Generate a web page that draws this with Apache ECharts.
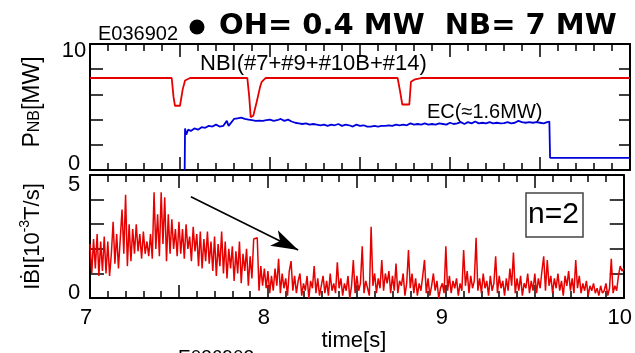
<!DOCTYPE html>
<html>
<head>
<meta charset="utf-8">
<script src="https://cdn.jsdelivr.net/npm/echarts@6/dist/echarts.min.js"></script>
<style>
  html, body { margin: 0; padding: 0; background: #fff; }
  #chart { width: 635px; height: 353px; }
</style>
</head>
<body>
<div id="chart"></div>
<script>
// NBI injected power [MW] (beams #7+#9+#10B+#14), breakpoints in time [s]
const nbiTime  = [7.00, 7.454, 7.464, 7.472, 7.500, 7.515, 7.528, 7.556, 7.874, 7.884, 7.893, 7.907, 7.926, 7.945, 7.954, 7.975, 8.709, 8.722, 8.735, 8.774, 8.783, 8.806, 8.839, 10.00];
const nbiPower = [7.3, 7.3, 5.8, 5.1, 5.1, 6.4, 7.1, 7.3, 7.3, 5.9, 4.2, 4.3, 5.4, 6.6, 7.0, 7.3, 7.3, 6.3, 5.2, 5.2, 7.0, 7.2, 7.3, 7.3];

// ECH power [MW]
const ecTime  = [7.526, 7.528, 7.535, 7.545, 7.56, 7.58, 7.60, 7.62, 7.64, 7.66, 7.68, 7.70, 7.72, 7.74, 7.76, 7.77, 7.78, 7.80, 7.82, 7.84, 7.86, 7.88, 7.90, 7.92, 7.94, 7.96, 7.98,
                 8.00, 8.02, 8.04, 8.06, 8.08, 8.10, 8.12, 8.14, 8.16, 8.18, 8.20, 8.22, 8.24, 8.26, 8.28, 8.30, 8.32, 8.34, 8.36, 8.38, 8.40, 8.42, 8.44, 8.46, 8.48,
                 8.50, 8.52, 8.54, 8.56, 8.58, 8.60, 8.62, 8.64, 8.66, 8.68, 8.70, 8.72, 8.74, 8.76, 8.78, 8.80, 8.82, 8.84, 8.86, 8.88, 8.90, 8.92, 8.94, 8.96, 8.98,
                 9.00, 9.02, 9.04, 9.06, 9.08, 9.10, 9.12, 9.14, 9.16, 9.18, 9.20, 9.22, 9.24, 9.26, 9.28, 9.30, 9.32, 9.34, 9.36, 9.38, 9.40, 9.42, 9.44, 9.46, 9.48,
                 9.50, 9.52, 9.54, 9.552, 9.556, 10.00];
const ecPower = [0.0, 3.3, 2.8, 3.2, 3.1, 3.3, 3.2, 3.4, 3.35, 3.5, 3.45, 3.6, 3.45, 3.5, 3.9, 3.5, 3.6, 4.05, 4.1, 4.15, 4.05, 4.0, 3.95, 3.9, 3.92, 3.9, 3.95,
                 4.0, 3.9, 3.95, 4.05, 3.9, 4.0, 3.85, 3.75, 3.7, 3.65, 3.7, 3.6, 3.65, 3.6, 3.55, 3.6, 3.5, 3.6, 3.55, 3.65, 3.5, 3.6, 3.55, 3.45, 3.6,
                 3.5, 3.55, 3.45, 3.45, 3.5, 3.45, 3.5, 3.5, 3.55, 3.5, 3.6, 3.55, 3.6, 3.55, 3.7, 3.6, 3.65, 3.6, 3.7, 3.6, 3.65, 3.6, 3.7, 3.65, 3.6,
                 3.75, 3.65, 3.7, 3.8, 3.65, 3.8, 3.7, 3.85, 3.7, 3.75, 3.7, 3.8, 3.7, 3.75, 3.7, 3.72, 3.8, 3.7, 3.75, 3.9, 3.8, 3.75, 3.8, 3.75, 3.8,
                 3.75, 3.7, 3.8, 3.85, 0.97, 0.97];

// |dB/dt| of the n=2 mode [1e-3 T/s], sampled every 10 ms from 7.00 s
const bdotStart = 7.0;
const bdotStep = 0.01;
const bdot = [
  2.2, 1.0, 2.4, 1.2, 2.6, 0.9, 2.3, 1.1, 2.5, 1.0,
  2.3, 0.9, 1.8, 3.1, 1.4, 2.6, 1.2, 2.4, 3.6, 1.8,
  4.2, 1.3, 3.0, 1.5, 2.8, 1.8, 3.0, 1.9, 2.6, 1.6,
  2.7, 1.8, 2.3, 1.7, 2.6, 1.6, 4.3, 2.0, 3.4, 1.7,
  4.3, 2.2, 4.1, 1.5, 3.4, 1.8, 3.2, 2.0, 2.8, 1.7,
  3.1, 1.8, 2.8, 1.6, 3.0, 2.0, 2.5, 1.5, 2.9, 1.9,
  2.6, 1.3, 2.7, 1.2, 2.4, 1.5, 2.7, 1.4, 2.3, 1.1,
  2.5, 0.9, 2.2, 1.3, 2.7, 1.0, 2.3, 0.8, 2.0, 1.2,
  2.1, 0.7, 1.9, 1.0, 2.3, 0.6, 1.8, 1.1, 2.0, 0.5,
  1.7, 0.8, 2.4, 2.45, 2.45, 0.3, 1.3, 0.5, 1.2, 0.4,
  1.1, 0.2, 0.9, 0.3, 1.2, 0.5, 1.6, 0.2, 1.0, 0.4,
  0.8, 0.1, 1.1, 1.5, 0.3, 0.9, 0.2, 0.7, 1.0, 0.1,
  0.6, 0.3, 0.9, 0.0, 0.7, 0.4, 1.3, 0.2, 0.8, 0.1,
  0.5, 0.9, 0.2, 0.7, 0.1, 1.0, 0.3, 0.6, 0.2, 1.45,
  0.4, 0.8, 0.1, 0.6, 0.3, 0.9, 0.0, 0.5, 1.55, 0.2,
  0.9, 0.3, 0.6, 2.1, 0.2, 0.7, 0.4, 0.1, 2.9, 0.5,
  1.0, 0.2, 0.8, 0.4, 1.55, 0.3, 1.0, 0.6, 1.1, 0.2,
  0.9, 0.3, 1.4, 0.2, 0.7, 0.5, 1.0, 0.1, 0.6, 1.95,
  0.4, 1.0, 0.2, 0.8, 0.1, 0.6, 0.3, 0.9, 1.55, 0.2,
  0.8, 0.1, 0.5, 1.0, 0.3, 0.7, 0.0, 0.4, 0.6, 0.2,
  2.1, 0.3, 0.9, 0.2, 0.7, 0.4, 0.8, 0.1, 0.6, 0.3,
  1.95, 0.5, 1.1, 0.2, 0.9, 0.4, 0.7, 2.45, 0.3, 0.8,
  0.2, 1.0, 0.4, 0.7, 0.1, 0.9, 0.3, 0.6, 1.7, 0.2,
  0.9, 0.4, 0.7, 0.1, 0.8, 0.3, 1.2, 0.5, 1.85, 0.2,
  0.8, 0.3, 0.9, 0.1, 0.6, 0.4, 1.0, 0.2, 0.7, 0.3,
  1.0, 0.2, 0.8, 0.4, 1.1, 1.7, 0.3, 1.55, 0.5, 0.9,
  0.2, 0.8, 0.4, 1.0, 0.3, 0.7, 0.1, 0.9, 0.5, 1.1,
  0.3, 0.8, 0.2, 1.55, 0.4, 0.9, 0.2, 0.6, 0.3, 0.7,
  0.1, 0.5, 0.3, 0.6, 0.2, 0.4, 0.1, 0.5, 0.2, 0.3,
  0.6, 0.1, 0.4, 1.6, 0.2, 0.5, 0.3, 0.9, 1.3, 1.1,
  1.2
];

// decay trend arrow drawn on the |dB/dt| panel: [time, value] at tail and head
const trendArrow = [[7.567, 4.12], [8.17, 1.95]];

const FONT = '"Liberation Sans", Arial, sans-serif';
const RED = '#e60000';
const BLUE = '#0000dc';

const pairs = (xs, ys) => xs.map((x, i) => [x, ys[i]]);
const bdotData = bdot.map((v, i) => [+(bdotStart + i * bdotStep).toFixed(2), v]);

function timeAxis(gridIndex, position, showLabels) {
  return {
    type: 'value', gridIndex, position, min: 7, max: 10, interval: 0.5,
    axisLine: { show: true, onZero: false, lineStyle: { color: '#000', width: 2 } },
    axisTick: { show: true, inside: true, length: 13, lineStyle: { color: '#000', width: 1.5 } },
    minorTick: { show: true, splitNumber: 5, length: 7, lineStyle: { color: '#000', width: 1.5 } },
    splitLine: { show: false },
    minorSplitLine: { show: false },
    axisLabel: showLabels ? {
      show: true, margin: 9, fontSize: 22, fontFamily: FONT, color: '#000', padding: [0, 8, 0, 0],
      showMinLabel: true, showMaxLabel: true, hideOverlap: false,
      formatter: v => (Math.abs(v - Math.round(v)) < 1e-6 ? String(Math.round(v)) : '')
    } : { show: false },
    name: showLabels ? 'time[s]' : '',
    nameLocation: 'middle', nameGap: 28,
    nameTextStyle: { fontSize: 22, fontFamily: FONT, color: '#000', padding: [0, 6, 0, 0] }
  };
}

// o.which: 'max' or 'min' picks the single end label this axis shows;
// o.va / o.lh place that label just inside the frame
function valueAxis(gridIndex, position, max, interval, opts) {
  const o = opts || {};
  return {
    type: 'value', gridIndex, position, min: 0, max, interval,
    axisLine: { show: !!o.line, onZero: false, lineStyle: { color: '#000', width: 2 } },
    axisTick: { show: !!o.line, inside: true, length: o.tick || 13, lineStyle: { color: '#000', width: 1.5 } },
    splitLine: { show: false },
    axisLabel: o.which ? {
      show: true, align: 'center', margin: 16, fontSize: 22, fontFamily: FONT, color: '#000',
      verticalAlign: o.va, lineHeight: o.lh, showMinLabel: true, showMaxLabel: true,
      formatter: v => (o.which === 'max' ? (v === max ? String(v) : '') : (v === 0 ? '0' : ''))
    } : { show: false },
    name: o.name || '',
    nameLocation: 'middle', nameRotate: 90, nameGap: 46,
    nameTextStyle: o.nameStyle || {}
  };
}

const chart = echarts.init(document.getElementById('chart'), null, { renderer: 'canvas' });

chart.setOption({
  animation: false,
  backgroundColor: '#fff',
  grid: [
    { left: 90, right: 5, top: 44, height: 126 },
    { left: 90, right: 5, top: 175, height: 125 }
  ],
  xAxis: [
    timeAxis(0, 'bottom', false),
    timeAxis(0, 'top', false),
    timeAxis(1, 'bottom', true),
    timeAxis(1, 'top', false)
  ],
  yAxis: [
    valueAxis(0, 'left', 10, 2, {
      line: true, tick: 13, which: 'max', va: 'top', lh: 13,
      name: '{a|P}{s|NB}{a|[MW]}',
      nameStyle: {
        padding: [0, 0, 0, 10],
        rich: {
          a: { fontSize: 23, fontFamily: FONT, color: '#000', lineHeight: 26, verticalAlign: 'bottom' },
          s: { fontSize: 16, fontFamily: FONT, color: '#000', lineHeight: 26, verticalAlign: 'bottom', padding: [0, 0, 1, 0] }
        }
      }
    }),
    valueAxis(0, 'left', 10, 2, { which: 'min', va: 'bottom', lh: 12 }),
    valueAxis(0, 'right', 10, 2, { line: true, tick: 11 }),
    valueAxis(1, 'left', 5, 1, {
      line: true, tick: 14, which: 'max', va: 'top', lh: 19,
      name: '{a|I\u1E02I[10}{p|-3}{a|T/s]}',
      nameStyle: { rich: {
        a: { fontSize: 22, fontFamily: FONT, color: '#000', lineHeight: 26, verticalAlign: 'bottom' },
        p: { fontSize: 14, fontFamily: FONT, color: '#000', lineHeight: 26, verticalAlign: 'top' }
      } }
    }),
    valueAxis(1, 'left', 5, 1, { which: 'min', va: 'bottom', lh: 10 }),
    valueAxis(1, 'right', 5, 1, { line: true, tick: 14 })
  ],
  series: [
    {
      name: 'NBI', type: 'line', xAxisIndex: 0, yAxisIndex: 0,
      data: pairs(nbiTime, nbiPower), showSymbol: false, silent: true, z: 3,
      lineStyle: { color: RED, width: 1.8 }
    },
    {
      name: 'EC', type: 'line', xAxisIndex: 0, yAxisIndex: 0,
      data: pairs(ecTime, ecPower), showSymbol: false, silent: true, z: 3,
      lineStyle: { color: BLUE, width: 1.8 }
    },
    {
      name: 'dB/dt n=2', type: 'line', xAxisIndex: 2, yAxisIndex: 3,
      data: bdotData, showSymbol: false, silent: true, z: 1,
      lineStyle: { color: RED, width: 1.5 },
      markLine: {
        silent: true, symbol: ['none', 'arrow'], symbolSize: [13, 27],
        label: { show: false },
        lineStyle: { color: '#000', width: 1.6, type: 'solid' },
        data: [[{ coord: trendArrow[0] }, { coord: trendArrow[1] }]]
      }
    }
  ],
  graphic: [
    { type: 'text', x: 98, y: 34, style: { text: 'E036902', font: '20px ' + FONT, fill: '#000', verticalAlign: 'middle' } },
    { type: 'circle', shape: { cx: 197, cy: 27, r: 7.5 }, style: { fill: '#000' } },
    { type: 'text', x: 219, y: 26, style: { text: 'OH= 0.4 MW  NB= 7 MW', font: 'bold 29px "DejaVu Sans", sans-serif', fill: '#000', verticalAlign: 'middle' } },
    { type: 'text', x: 200, y: 64, style: { text: 'NBI(#7+#9+#10B+#14)', font: '22px ' + FONT, fill: '#000', verticalAlign: 'middle' } },
    { type: 'text', x: 427, y: 112, style: { text: 'EC(\u22481.6MW)', font: '20px ' + FONT, fill: '#000', verticalAlign: 'middle' } },
    { type: 'rect', shape: { x: 526, y: 193, width: 57, height: 44 }, style: { fill: '#fff', stroke: '#444', lineWidth: 1.5 } },
    { type: 'text', x: 528, y: 215, style: { text: 'n=2', font: '30px ' + FONT, fill: '#000', verticalAlign: 'middle' } },
    { type: 'text', x: 178, y: 348, style: { text: 'E036902', font: '19px ' + FONT, fill: '#000', verticalAlign: 'top' } }
  ]
});
</script>
</body>
</html>
